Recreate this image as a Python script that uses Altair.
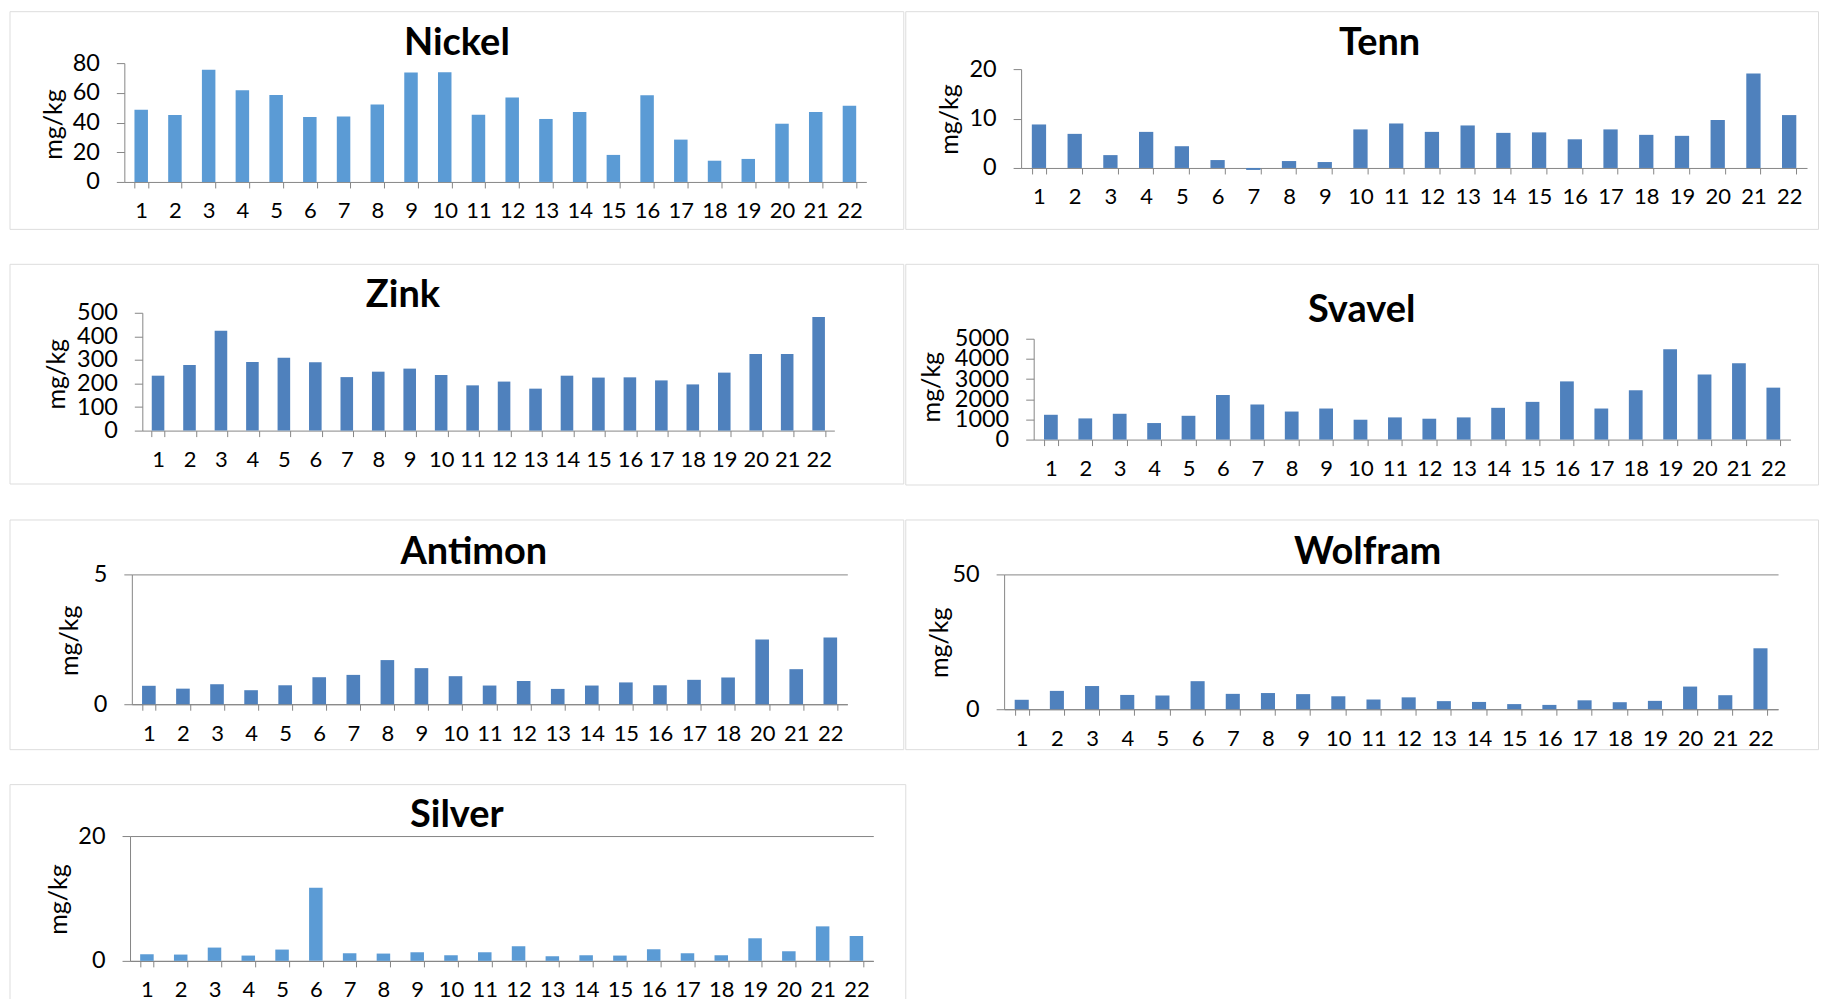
import altair as alt
import pandas as pd

samples = list(range(1, 23))

nickel = [48.6, 45.0, 75.5, 61.8, 58.5, 43.7, 44.1, 52.2, 73.7, 73.9, 45.3,
          56.9, 42.4, 47.1, 18.2, 58.3, 28.5, 14.3, 15.5, 39.2, 47.1, 51.3]
tenn = [8.8, 6.9, 2.6, 7.3, 4.4, 1.6, -0.4, 1.4, 1.2, 7.8, 9.0,
        7.3, 8.6, 7.1, 7.2, 5.8, 7.8, 6.7, 6.5, 9.7, 19.1, 10.7]
zink = [233, 278, 424, 291, 309, 290, 227, 250, 263, 236, 192,
        208, 178, 233, 225, 226, 213, 196, 246, 325, 325, 482]
svavel = [1230, 1050, 1280, 820, 1180, 2210, 1740, 1390, 1540, 985, 1100,
          1035, 1100, 1575, 1870, 2885, 1540, 2445, 4475, 3230, 3790, 2575]
antimon = [0.71, 0.60, 0.77, 0.54, 0.73, 1.04, 1.13, 1.70, 1.39, 1.08, 0.72,
           0.89, 0.59, 0.72, 0.84, 0.73, 0.94, 1.03, None, 2.49, 1.35, 2.57]
wolfram = [3.5, 6.8, 8.6, 5.3, 5.1, 10.4, 5.7, 6.0, 5.6, 4.8, 3.6,
           4.4, 3.0, 2.7, 1.9, 1.6, 3.3, 2.6, 3.1, 8.4, 5.2, 22.6]
silver = [1.06, 1.01, 2.13, 0.85, 1.81, 11.7, 1.22, 1.17, 1.38, 0.90, 1.38,
          2.34, 0.74, 0.90, 0.85, 1.86, 1.22, 0.90, 3.62, 1.54, 5.53, 3.99]

nickel_ticks = [0, 20, 40, 60, 80]
tenn_ticks = [0, 10, 20]
zink_ticks = [0, 100, 200, 300, 400, 500]
svavel_ticks = [0, 1000, 2000, 3000, 4000, 5000]
antimon_ticks = [0, 5]
wolfram_ticks = [0, 50]
silver_ticks = [0, 20]

LIGHT = "#5B9BD5"
DARK = "#4F81BD"
AX = "#868686"
FONT = "Lato"


def panel(title, values, color, ticks, w, h, x0, x1, ybot, ytop,
          ytx, yty, tcx, tbase, grid):
    df = pd.DataFrame({"prov": samples, "value": values})
    bars = alt.Chart(df).mark_bar(color=color).encode(
        x=alt.X(
            "prov:O",
            scale=alt.Scale(range=[x0, x1], paddingInner=0.6, paddingOuter=0.3),
            axis=alt.Axis(
                title=None, labelAngle=0, offset=ybot - h, tickBand="extent",
                tickSize=6, labelPadding=13, domainColor=AX, tickColor=AX,
                labelFontSize=22, labelOverlap=False, grid=False,
                labelColor="black", labelFont=FONT,
            ),
        ),
        y=alt.Y(
            "value:Q",
            scale=alt.Scale(domain=[0, ticks[-1]], range=[ybot, ytop], nice=False),
            axis=alt.Axis(
                title="mg/kg", values=ticks, offset=-x0, tickSize=8,
                labelPadding=17, format="d", grid=grid, gridColor=AX,
                gridOpacity=1, domainColor=AX, tickColor=AX,
                labelOverlap=False,
                titleX=ytx - x0, titleY=yty, titleAngle=270,
                titleAlign="center", titleBaseline="middle",
                titleFontSize=25, titleFontWeight="normal", titleFont=FONT,
                titleColor="black", labelFontSize=23.5, labelColor="black",
                labelFont=FONT,
            ),
        ),
    )
    head = alt.Chart(pd.DataFrame({"t": [title]})).mark_text(
        font=FONT, fontSize=38, fontWeight="bold", color="black",
        align="center", baseline="alphabetic",
    ).encode(text="t:N", x=alt.value(tcx), y=alt.value(tbase))
    return alt.layer(bars, head).properties(width=w, height=h)


c_nickel = panel("Nickel", nickel, LIGHT, nickel_ticks, 895, 218, 115, 858, 171, 52, 44, 113, 448, 44, False)
c_tenn = panel("Tenn", tenn, DARK, tenn_ticks, 914, 218, 116, 903, 157, 58, 44, 108, 475, 44, False)
c_zink = panel("Zink", zink, DARK, zink_ticks, 895, 220, 133, 826, 167, 49, 47, 110, 394, 43, False)
c_svavel = panel("Svavel", svavel, DARK, svavel_ticks, 914, 221, 128.6, 886.5, 176, 75, 26, 123, 457, 58, False)
c_antimon = panel("Antimon", antimon, DARK, antimon_ticks, 895, 230, 122.5, 839, 185, 55, 60, 121, 465, 45, True)
c_wolfram = panel("Wolfram", wolfram, DARK, wolfram_ticks, 914, 230, 99, 874, 190, 55, 34, 123, 463, 45, True)
c_silver = panel("Silver", silver, LIGHT, silver_ticks, 897, 219, 120.7, 865, 177, 52, 49, 115, 448, 43, True)

chart = alt.concat(
    c_nickel, c_tenn, c_zink, c_svavel, c_antimon, c_wolfram, c_silver,
    columns=2,
    spacing={"row": 35, "column": -1},
    bounds="flush",
).properties(
    padding={"left": 0.5, "top": 1.5, "right": 0, "bottom": 0}
).configure_view(
    stroke="#8C8C8C", strokeWidth=1, fill="white"
).configure(background="white")

chart.save("out.html", embed_options={"renderer": "svg", "actions": False})
